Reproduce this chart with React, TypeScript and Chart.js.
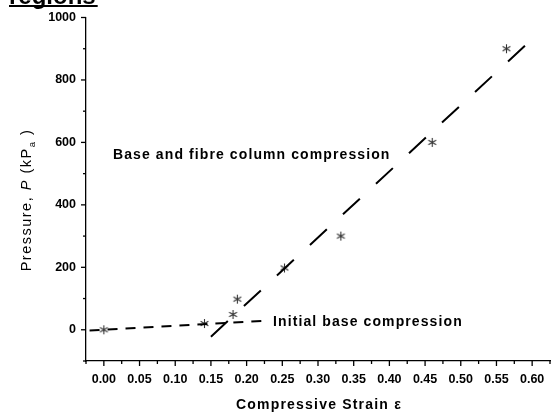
import React, { useEffect, useRef } from "react";
import { Chart, registerables } from "chart.js";

Chart.register(...registerables);

// Measured data points (compressive strain, pressure kPa)
const strainValues = [0, 0.141, 0.181, 0.187, 0.253, 0.332, 0.46, 0.564];
const pressureValues = [0, 20, 49, 98, 198, 300, 600, 900];

// Fitted dashed lines
const initialLineX = [-0.02, 0.221];
const initialLineY = [-2.5, 28];
const fibreLineX = [0.15, 0.601];
const fibreLineY = [-22, 933];

const xTickStep = 0.05;
const yTickStep = 200;
const xMin = -0.025;
const xMax = 0.625;
const yMin = -100;
const yMax = 1000;

const FONT = "'Liberation Sans', Arial, Helvetica, sans-serif";

function makeAsterisk(): HTMLCanvasElement {
  const c = document.createElement("canvas");
  const s = 11;
  c.width = s;
  c.height = s;
  const ctx = c.getContext("2d")!;
  ctx.strokeStyle = "#333";
  ctx.lineWidth = 1.1;
  const cx = s / 2;
  const cy = s / 2;
  const r = 4.5;
  ctx.beginPath();
  for (let k = 0; k < 3; k++) {
    const a = Math.PI / 2 + (k * Math.PI) / 3;
    ctx.moveTo(cx + r * Math.cos(a), cy + r * Math.sin(a));
    ctx.lineTo(cx - r * Math.cos(a), cy - r * Math.sin(a));
  }
  ctx.stroke();
  return c;
}

const decorPlugin = {
  id: "decor",
  afterDraw(chart: any) {
    const ctx: any = chart.ctx;
    const xs = chart.scales.x;
    const ys = chart.scales.y;
    const area = chart.chartArea;
    ctx.save();
    ctx.strokeStyle = "#000";
    ctx.lineWidth = 1.3;
    // x ticks (major every 0.05, minor every 0.025)
    for (let i = 0; i <= 26; i++) {
      const v = xMin + i * 0.025;
      const px = xs.getPixelForValue(v);
      const major = i % 2 === 1;
      ctx.beginPath();
      ctx.moveTo(px, area.bottom);
      ctx.lineTo(px, area.bottom + (major ? 5 : 3));
      ctx.stroke();
    }
    // y ticks (major every 200, minor every 100)
    for (let v = yMin; v <= yMax + 1e-6; v += 100) {
      const py = ys.getPixelForValue(v);
      const major = Math.round(v) % 200 === 0;
      ctx.beginPath();
      ctx.moveTo(area.left, py);
      ctx.lineTo(area.left - (major ? 5 : 3), py);
      ctx.stroke();
    }

    ctx.fillStyle = "#000";
    // annotations
    ctx.font = `bold 14px ${FONT}`;
    ctx.letterSpacing = "1.1px";
    ctx.textBaseline = "middle";
    ctx.textAlign = "left";
    ctx.fillText("Base and fibre column compression", 113, 155);
    ctx.fillText("Initial base compression", 273, 322);

    // x title
    ctx.letterSpacing = "1.2px";
    ctx.textAlign = "left";
    ctx.fillText("Compressive Strain ε", 236, 405);

    // y title with italic P and subscript a
    ctx.save();
    ctx.translate(27, 200);
    ctx.rotate(-Math.PI / 2);
    ctx.letterSpacing = "1.5px";
    const parts: [string, string, number][] = [
      ["Pressure, ", `14.5px ${FONT}`, 0],
      ["P", `italic 14.5px ${FONT}`, 0],
      [" (kP", `14.5px ${FONT}`, 0],
      ["a", `9.5px ${FONT}`, 5],
      [" )", `14.5px ${FONT}`, 0],
    ];
    let total = 0;
    for (const [t, f] of parts) {
      ctx.font = f;
      total += ctx.measureText(t).width;
    }
    let x = -total / 2;
    ctx.textAlign = "left";
    for (const [t, f, dy] of parts) {
      ctx.font = f;
      ctx.fillText(t, x, dy);
      x += ctx.measureText(t).width;
    }
    ctx.restore();

    // cropped heading at top
    ctx.letterSpacing = "0px";
    ctx.font = `bold 24px ${FONT}`;
    ctx.textAlign = "left";
    ctx.textBaseline = "alphabetic";
    ctx.fillText("regions", 9, 4);
    const w = ctx.measureText("regions").width;
    ctx.fillRect(9, 5, w + 2, 2);
    ctx.restore();
  },
};

export default function App() {
  const ref = useRef<HTMLCanvasElement | null>(null);
  useEffect(() => {
    if (!ref.current) return;
    const star = makeAsterisk();
    const pts = strainValues.map((x, i) => ({ x, y: pressureValues[i] }));
    const line1 = initialLineX.map((x, i) => ({ x, y: initialLineY[i] }));
    const line2 = fibreLineX.map((x, i) => ({ x, y: fibreLineY[i] }));
    const chart = new Chart(ref.current, {
      type: "scatter",
      data: {
        datasets: [
          {
            data: line1,
            showLine: true,
            borderColor: "#000",
            borderWidth: 2,
            borderDash: [10, 8],
            pointRadius: 0,
          },
          {
            data: line2,
            showLine: true,
            borderColor: "#000",
            borderWidth: 2,
            borderDash: [23, 22],
            pointRadius: 0,
          },
          {
            data: pts,
            showLine: false,
            pointStyle: star as any,
            pointRadius: 5,
          },
        ],
      },
      plugins: [decorPlugin],
      options: {
        animation: false,
        responsive: false,
        maintainAspectRatio: false,
        layout: { padding: { top: 16, right: 3, left: 0, bottom: 0 } },
        plugins: { legend: { display: false }, tooltip: { enabled: false }, title: { display: false } },
        scales: {
          x: {
            type: "linear",
            min: xMin,
            max: xMax,
            grid: { display: false, drawTicks: false },
            border: { display: true, color: "#000", width: 1.3 },
            afterFit: (s: any) => {
              s.height = 55;
            },
            ticks: {
              stepSize: 0.025,
              padding: 11,
              maxRotation: 0,
              autoSkip: false,
              color: "#000",
              font: { family: FONT, size: 12.5, weight: "bold" },
              callback: (v: any) => {
                const n = Number(v);
                const k = n / xTickStep;
                if (Math.abs(k - Math.round(k)) > 1e-6) return null;
                return n.toFixed(2);
              },
            },
          },
          y: {
            type: "linear",
            min: yMin,
            max: yMax,
            grid: { display: false, drawTicks: false },
            border: { display: true, color: "#000", width: 1.3 },
            afterFit: (s: any) => {
              s.width = 86;
            },
            ticks: {
              stepSize: 100,
              padding: 10,
              autoSkip: false,
              color: "#000",
              font: { family: FONT, size: 12.5, weight: "bold" },
              callback: (v: any) => {
                const n = Math.round(Number(v));
                if (n % yTickStep !== 0) return null;
                return String(n);
              },
            },
          },
        },
      },
    });
    return () => chart.destroy();
  }, []);
  return (
    <div style={{ position: "fixed", left: 0, top: 0, width: 556, height: 416, background: "#fff" }}>
      <canvas ref={ref} width={556} height={416} style={{ width: 556, height: 416 }} />
    </div>
  );
}
